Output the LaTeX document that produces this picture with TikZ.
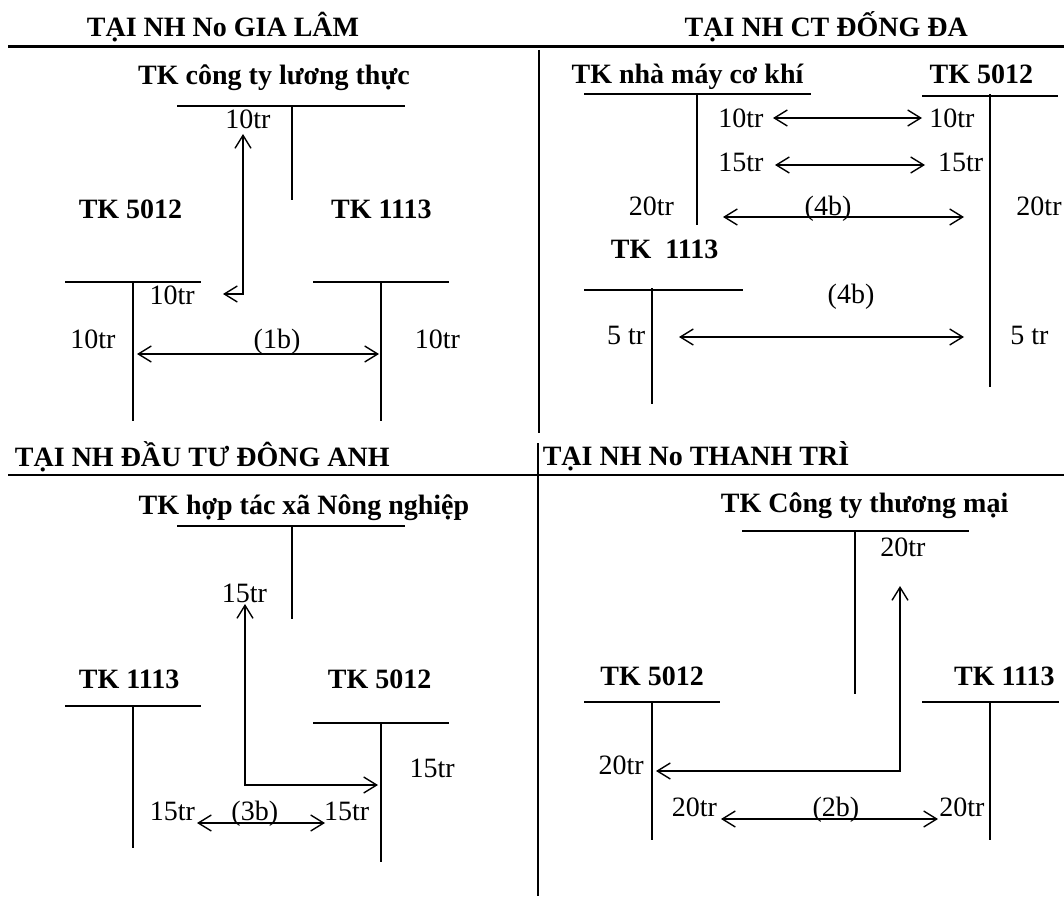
\documentclass[tikz,border=0pt]{standalone}
\usepackage{fontspec}
\setmainfont{Liberation Serif}
\usetikzlibrary{arrows.meta}

\begin{document}
\begin{tikzpicture}[x=1pt, y=-1pt, line cap=butt,
    bank/.style={anchor=base, inner sep=0pt, font=\fontsize{28}{34}\selectfont\bfseries},
    acct/.style={anchor=base, inner sep=0pt, font=\fontsize{28}{34}\selectfont\bfseries},
    amt/.style={anchor=base, inner sep=0pt, font=\fontsize{28}{34}\selectfont},
    sect/.style={line width=2.2pt},
    tline/.style={line width=1.5pt},
    flow/.style={line width=1.4pt, {Straight Barb[length=13pt,width=16pt]}-{Straight Barb[length=13pt,width=16pt]}}]

  %% ════ khung chia 4 ô ════
  \draw[sect] (8,46.5) -- (1064,46.5);
  \draw[sect] (8,475) -- (1064,475);
  \draw[sect] (539,50) -- (539,433);
  \draw[sect] (538,443) -- (538,896);

  %% ════ ô 1: NH No Gia Lâm ════
  \node[bank] (gl) at (223,37) {TẠI NH No GIA LÂM};
  \node[acct] (glLT) at (274,84.4) {TK công ty lương thực};
  \draw[tline] (177,106) -- (405,106);
  \draw[tline] (292,106) -- (292,200);
  \node[amt] (glLTa) at (248,129) {10tr};
  \node[acct] (glV) at (130.5,218.7) {TK 5012};
  \node[acct] (glQ) at (381.4,218.7) {TK 1113};
  \draw[tline] (65,282) -- (201,282);
  \draw[tline] (133,282) -- (133,421);
  \draw[tline] (313,282) -- (449,282);
  \draw[tline] (381,282) -- (381,421);
  \node[amt] (glVa) at (172.2,304.8) {10tr};
  \node[amt] (glVb) at (93,348.5) {10tr};
  \node[amt] (glQa) at (437.5,348.5) {10tr};
  \node[amt] (gl1b) at (277,348.5) {(1b)};
  \coordinate (glA1) at (223,294);
  \coordinate (glA2) at (243,294);
  \coordinate (glA3) at (243,134);
  \coordinate (glB1) at (137,354);
  \coordinate (glB2) at (379,354);
  \draw[flow] (glA1) -- (glA2) -- (glA3);
  \draw[flow] (glB1) -- (glB2);

  %% ════ ô 2: NH CT Đống Đa ════
  \node[bank] (dd) at (826.3,36.5) {TẠI NH CT ĐỐNG ĐA};
  \node[acct] (ddCK) at (687.5,83.4) {TK nhà máy cơ khí};
  \node[acct] (ddV) at (981.3,83.4) {TK 5012};
  \draw[tline] (584,94) -- (811,94);
  \draw[tline] (697,94) -- (697,225);
  \draw[tline] (922,96) -- (1058,96);
  \draw[tline] (990,94) -- (990,387);
  \node[amt] (ddCKa) at (740.8,127.7) {10tr};
  \node[amt] (ddVa) at (951.9,127.7) {10tr};
  \node[amt] (ddCKb) at (740.8,171.3) {15tr};
  \node[amt] (ddVb) at (960.6,171.3) {15tr};
  \node[amt] (ddCKc) at (651.4,215.3) {20tr};
  \node[amt] (dd4b) at (828,215.3) {(4b)};
  \node[amt] (ddVc) at (1039,215.3) {20tr};
  \node[acct] (ddQ) at (664.6,258.9) {TK \ 1113};
  \draw[tline] (584,290) -- (743,290);
  \draw[tline] (652,288) -- (652,404);
  \node[amt] (dd4c) at (851,303) {(4b)};
  \node[amt] (ddQa) at (626.2,344.7) {5 tr};
  \node[amt] (ddVd) at (1029.5,344.7) {5 tr};
  \coordinate (ddA1) at (773,118);
  \coordinate (ddA2) at (922,118);
  \coordinate (ddB1) at (775,165);
  \coordinate (ddB2) at (925,165);
  \coordinate (ddC1) at (723,217);
  \coordinate (ddC2) at (964,217);
  \coordinate (ddD1) at (679,337);
  \coordinate (ddD2) at (964,337);
  \draw[flow] (ddA1) -- (ddA2);
  \draw[flow] (ddB1) -- (ddB2);
  \draw[flow] (ddC1) -- (ddC2);
  \draw[flow] (ddD1) -- (ddD2);

  %% ════ ô 3: NH Đầu tư Đông Anh ════
  \node[bank] (da) at (202.3,466.2) {TẠI NH ĐẦU TƯ ĐÔNG ANH};
  \node[acct] (daHTX) at (303.9,514.4) {TK hợp tác xã Nông nghiệp};
  \draw[tline] (177,526) -- (405,526);
  \draw[tline] (292,526) -- (292,619);
  \node[amt] (daHTXa) at (244.5,602.2) {15tr};
  \node[acct] (daQ) at (129.1,688.3) {TK 1113};
  \node[acct] (daV) at (379.6,688.3) {TK 5012};
  \draw[tline] (65,706) -- (201,706);
  \draw[tline] (133,706) -- (133,848);
  \draw[tline] (313,723) -- (449,723);
  \draw[tline] (381,723) -- (381,862);
  \node[amt] (daVa) at (432.2,777.8) {15tr};
  \node[amt] (daQa) at (172.5,820.8) {15tr};
  \node[amt] (da3b) at (254.8,820.8) {(3b)};
  \node[amt] (daVb) at (346.6,820.8) {15tr};
  \coordinate (daA1) at (245,604);
  \coordinate (daA2) at (245,785);
  \coordinate (daA3) at (378,785);
  \coordinate (daB1) at (197,823);
  \coordinate (daB2) at (325,823);
  \draw[flow] (daA1) -- (daA2) -- (daA3);
  \draw[flow] (daB1) -- (daB2);

  %% ════ ô 4: NH No Thanh Trì ════
  \node[bank] (tt) at (696,465.8) {TẠI NH No THANH TRÌ};
  \node[acct] (ttTM) at (864.6,512.8) {TK Công ty thương mại};
  \draw[tline] (742,531) -- (969,531);
  \draw[tline] (855,531) -- (855,694);
  \node[amt] (ttTMa) at (903,556.7) {20tr};
  \node[acct] (ttV) at (652.1,685.4) {TK 5012};
  \node[acct] (ttQ) at (1004.3,685.4) {TK 1113};
  \draw[tline] (584,702) -- (720,702);
  \draw[tline] (652,702) -- (652,840);
  \draw[tline] (922,702) -- (1059,702);
  \draw[tline] (990,702) -- (990,840);
  \node[amt] (ttVa) at (621.1,774) {20tr};
  \node[amt] (ttVb) at (694.3,816.6) {20tr};
  \node[amt] (tt2b) at (835.9,816.6) {(2b)};
  \node[amt] (ttQa) at (962,816.6) {20tr};
  \coordinate (ttA1) at (656,771);
  \coordinate (ttA2) at (900,771);
  \coordinate (ttA3) at (900,586);
  \coordinate (ttB1) at (721,819);
  \coordinate (ttB2) at (938,819);
  \draw[flow] (ttA1) -- (ttA2) -- (ttA3);
  \draw[flow] (ttB1) -- (ttB2);

  % giữ đúng khổ ảnh gốc
  \pgfresetboundingbox
  \path[use as bounding box] (0,0) rectangle (1064,896);
\end{tikzpicture}
\end{document}
